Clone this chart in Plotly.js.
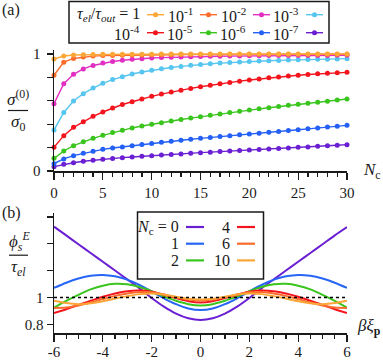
<!DOCTYPE html>
<html>
<head>
<meta charset="utf-8">
<script src="https://cdn.plot.ly/plotly-3.0.1.min.js"></script>
<style>
  body { margin: 0; background: #fff; }
  #chart { width: 383px; height: 360px; }
</style>
</head>
<body>
<div id="chart"></div>
<script>
// panel (a): sigma^(0)/sigma_0 against N_c, one series per tau_el/tau_out
const nc = [0, 1, 2, 3, 4, 5, 6, 7, 8, 9, 10, 11, 12, 13, 14, 15, 16, 17, 18, 19, 20, 21, 22, 23, 24, 25, 26, 27, 28, 29, 30];
const ncTicks = [0, 5, 10, 15, 20, 25, 30];

const tauLabels = ['1', '10<sup>-1</sup>', '10<sup>-2</sup>', '10<sup>-3</sup>', '10<sup>-4</sup>', '10<sup>-5</sup>', '10<sup>-6</sup>', '10<sup>-7</sup>'];
const tauColors = ['#fba637', '#fb6b2b', '#e22fc3', '#56c5ef', '#f3151d', '#3ac41e', '#2460f5', '#6a1fd2'];

const sigmaT0 = [0.957, 0.983, 0.991, 0.994, 0.996, 0.997, 0.997, 0.998, 0.998, 0.998, 0.998, 0.999, 0.999, 0.999, 0.999, 0.999, 0.999, 0.999, 0.999, 0.999, 0.999, 0.999, 0.999, 0.999, 0.999, 1.0, 1.0, 1.0, 1.0, 1.0, 1.0];
const sigmaT1 = [0.818, 0.930, 0.962, 0.975, 0.982, 0.986, 0.988, 0.990, 0.991, 0.992, 0.993, 0.994, 0.994, 0.995, 0.995, 0.996, 0.996, 0.996, 0.997, 0.997, 0.997, 0.997, 0.997, 0.998, 0.998, 0.998, 0.998, 0.998, 0.998, 0.998, 0.998];
const sigmaT2 = [0.575, 0.746, 0.826, 0.872, 0.902, 0.922, 0.936, 0.946, 0.954, 0.960, 0.965, 0.969, 0.972, 0.975, 0.977, 0.979, 0.980, 0.981, 0.982, 0.983, 0.984, 0.985, 0.986, 0.986, 0.987, 0.987, 0.988, 0.988, 0.988, 0.989, 0.989];
const sigmaT3 = [0.350, 0.500, 0.598, 0.661, 0.709, 0.749, 0.781, 0.806, 0.829, 0.846, 0.860, 0.873, 0.884, 0.894, 0.903, 0.911, 0.917, 0.922, 0.927, 0.932, 0.936, 0.939, 0.942, 0.945, 0.948, 0.950, 0.952, 0.954, 0.956, 0.958, 0.960];
const sigmaT4 = [0.202, 0.302, 0.373, 0.421, 0.467, 0.504, 0.538, 0.568, 0.592, 0.616, 0.638, 0.657, 0.675, 0.691, 0.706, 0.720, 0.733, 0.745, 0.757, 0.768, 0.778, 0.787, 0.796, 0.804, 0.811, 0.818, 0.824, 0.830, 0.835, 0.839, 0.843];
const sigmaT5 = [0.108, 0.171, 0.216, 0.251, 0.279, 0.305, 0.328, 0.349, 0.368, 0.384, 0.399, 0.413, 0.427, 0.440, 0.452, 0.464, 0.476, 0.488, 0.499, 0.510, 0.521, 0.531, 0.541, 0.551, 0.561, 0.570, 0.579, 0.588, 0.597, 0.606, 0.615];
const sigmaT6 = [0.063, 0.103, 0.131, 0.151, 0.169, 0.185, 0.196, 0.206, 0.216, 0.226, 0.236, 0.245, 0.254, 0.262, 0.271, 0.279, 0.287, 0.294, 0.302, 0.309, 0.316, 0.323, 0.331, 0.338, 0.346, 0.353, 0.360, 0.368, 0.375, 0.383, 0.390];
const sigmaT7 = [0.037, 0.057, 0.071, 0.083, 0.092, 0.100, 0.107, 0.114, 0.120, 0.126, 0.131, 0.136, 0.141, 0.146, 0.152, 0.157, 0.161, 0.166, 0.170, 0.175, 0.179, 0.184, 0.188, 0.193, 0.197, 0.202, 0.206, 0.211, 0.216, 0.220, 0.225];
const sigmaSeries = [sigmaT0, sigmaT1, sigmaT2, sigmaT3, sigmaT4, sigmaT5, sigmaT6, sigmaT7];

// panel (b): phi_s^E / tau_el against beta*xi_p, one curve per N_c
const beta = [-6, -5.5, -5, -4.5, -4, -3.5, -3, -2.5, -2, -1.5, -1, -0.5, 0, 0.5, 1, 1.5, 2, 2.5, 3, 3.5, 4, 4.5, 5, 5.5, 6];
const betaTicks = [-6, -4, -2, 0, 2, 4, 6];
const betaTickText = ['-6', '-4', '-2', '0', '2', '4', '6'];

const ncLabels = ['0', '1', '2', '4', '6', '10'];
const ncColors = ['#6a1fd2', '#2766f5', '#3ac41e', '#f3151d', '#fb6b2b', '#fba637'];

const phiN0 = [1.528, 1.463, 1.397, 1.332, 1.266, 1.201, 1.135, 1.068, 0.996, 0.932, 0.880, 0.845, 0.832, 0.845, 0.880, 0.932, 0.996, 1.068, 1.135, 1.201, 1.266, 1.332, 1.397, 1.463, 1.525];
const phiN1 = [1.071, 1.110, 1.141, 1.162, 1.168, 1.158, 1.133, 1.093, 1.045, 0.994, 0.950, 0.918, 0.906, 0.918, 0.950, 0.994, 1.045, 1.093, 1.133, 1.158, 1.168, 1.162, 1.141, 1.110, 1.071];
const phiN2 = [0.925, 0.975, 1.020, 1.060, 1.088, 1.102, 1.098, 1.078, 1.046, 1.008, 0.975, 0.950, 0.940, 0.950, 0.975, 1.008, 1.046, 1.078, 1.098, 1.102, 1.088, 1.060, 1.020, 0.975, 0.925];
const phiN4 = [0.884, 0.912, 0.945, 0.975, 1.005, 1.030, 1.047, 1.052, 1.043, 1.020, 0.995, 0.972, 0.963, 0.972, 0.995, 1.020, 1.043, 1.052, 1.047, 1.030, 1.005, 0.975, 0.945, 0.912, 0.884];
const phiN6 = [0.922, 0.925, 0.940, 0.962, 0.988, 1.012, 1.030, 1.040, 1.038, 1.022, 1.002, 0.985, 0.978, 0.985, 1.002, 1.022, 1.038, 1.040, 1.030, 1.012, 0.988, 0.962, 0.940, 0.925, 0.922];
const phiN10 = [0.975, 0.958, 0.950, 0.957, 0.972, 0.992, 1.010, 1.025, 1.030, 1.022, 1.005, 0.990, 0.984, 0.990, 1.005, 1.022, 1.030, 1.025, 1.010, 0.992, 0.972, 0.957, 0.950, 0.958, 0.975];
const phiSeries = [phiN0, phiN1, phiN2, phiN4, phiN6, phiN10];

const refX = [-6, 6];
const refY = [1, 1];

// page geometry, in pixels, so the annotations and keys can be placed on the paper
const W = 383, H = 360, ML = 54, MR = 36;
const PW = W - ML - MR;
function px(x) { return (x - ML) / PW; }
function py(y) { return 1 - y / H; }

const ink = '#1a1a1a';
const serif = 'Liberation Serif';

const traces = [];
for (let i = sigmaSeries.length - 1; i >= 0; i--) {
  traces.push({
    x: nc,
    y: sigmaSeries[i],
    xaxis: 'x',
    yaxis: 'y',
    type: 'scatter',
    mode: 'lines+markers',
    line: { color: tauColors[i], width: 1.4 },
    marker: { color: tauColors[i], size: 5 },
    cliponaxis: false,
    showlegend: false,
    hoverinfo: 'skip',
  });
}
phiSeries.forEach(function (ys, i) {
  traces.push({
    x: beta,
    y: ys,
    xaxis: 'x2',
    yaxis: 'y2',
    type: 'scatter',
    mode: 'lines',
    line: { color: ncColors[i], width: 2, shape: 'spline', smoothing: 0.8 },
    showlegend: false,
    hoverinfo: 'skip',
  });
});
traces.push({
  x: refX,
  y: refY,
  xaxis: 'x2',
  yaxis: 'y2',
  type: 'scatter',
  mode: 'lines',
  line: { color: '#000', width: 1.5, dash: 'dot' },
  showlegend: false,
  hoverinfo: 'skip',
});

const axisBase = {
  showline: true,
  linecolor: ink,
  linewidth: 1.5,
  ticks: 'outside',
  tickcolor: ink,
  tickwidth: 1.3,
  showgrid: false,
  zeroline: false,
  tickfont: { family: serif, size: 15, color: ink },
};

const shapes = [];
const annotations = [];

// key for panel (a): label first, then its swatch
shapes.push({
  type: 'rect', xref: 'paper', yref: 'paper',
  x0: px(69), x1: px(329), y0: py(43), y1: py(1.5),
  line: { color: ink, width: 1.5 },
});
tauLabels.forEach(function (label, i) {
  const row = Math.floor(i / 4);
  const col = i % 4;
  const sx = 147 + col * 53;
  const sy = 14.7 + row * 18;
  shapes.push({
    type: 'line', xref: 'paper', yref: 'paper',
    x0: px(sx), x1: px(sx + 17), y0: py(sy), y1: py(sy),
    line: { color: tauColors[i], width: 1.4 },
  });
  shapes.push({
    type: 'circle', xref: 'paper', yref: 'paper',
    x0: px(sx + 6), x1: px(sx + 11), y0: py(sy + 2.5), y1: py(sy - 2.5),
    fillcolor: tauColors[i], line: { width: 0 },
  });
  const text = i === 0
    ? '<i>τ<sub>el</sub></i>/<i>τ<sub>out</sub></i> = ' + label
    : label;
  annotations.push({
    xref: 'paper', yref: 'paper', x: px(sx - 5), y: py(sy),
    xanchor: 'right', yanchor: 'middle', showarrow: false,
    text: text, font: { family: serif, size: 16, color: ink },
  });
});

// key for panel (b), filled column by column
shapes.push({
  type: 'rect', xref: 'paper', yref: 'paper',
  x0: px(137.5), x1: px(263.5), y0: py(279), y1: py(212),
  line: { color: ink, width: 1.5 },
});
ncLabels.forEach(function (label, i) {
  const col = Math.floor(i / 3);
  const row = i % 3;
  const sx = 186 + col * 51;
  const sy = 227 + row * 16.7;
  shapes.push({
    type: 'line', xref: 'paper', yref: 'paper',
    x0: px(sx), x1: px(sx + 18), y0: py(sy), y1: py(sy),
    line: { color: ncColors[i], width: 2.2 },
  });
  annotations.push({
    xref: 'paper', yref: 'paper', x: px(sx - 5), y: py(sy),
    xanchor: 'right', yanchor: 'middle', showarrow: false,
    text: i === 0 ? '<i>N</i><sub>c</sub> = ' + label : label,
    font: { family: serif, size: 16, color: ink },
  });
});

// panel letters, axis names and the two stacked fractions
function note(text, x, y, size, xanchor, yanchor) {
  annotations.push({
    xref: 'paper', yref: 'paper', x: px(x), y: py(y),
    xanchor: xanchor || 'center', yanchor: yanchor || 'middle', showarrow: false,
    borderpad: 0,
    text: text, font: { family: serif, size: size, color: ink },
  });
}
note('(a)', 11, 10, 16);
note('(b)', 11, 213, 16);
note('<i>N</i><sub>c</sub>', 372, 171, 17);
note('<i>βξ</i><sub><b>p</b></sub>', 382, 327, 17, 'right');
note('<i>σ</i><sup>(0)</sup>', 18, 110, 17, 'center', 'bottom');
note('<i>σ</i><sub>0</sub>', 18, 111, 17, 'center', 'top');
note('<i>ϕ</i><sub><i>s</i></sub><sup><i>E</i></sup>', 19, 254.5, 17, 'center', 'bottom');
note('<i>τ<sub>el</sub></i>', 18, 256, 17, 'center', 'top');
shapes.push({
  type: 'line', xref: 'paper', yref: 'paper',
  x0: px(8), x1: px(28), y0: py(110.5), y1: py(110.5),
  line: { color: ink, width: 1.2 },
});
shapes.push({
  type: 'line', xref: 'paper', yref: 'paper',
  x0: px(9), x1: px(28), y0: py(255.2), y1: py(255.2),
  line: { color: ink, width: 1.2 },
});

const layout = {
  width: W,
  height: H,
  margin: { l: ML, r: MR, t: 0, b: 0 },
  paper_bgcolor: '#fff',
  plot_bgcolor: 'rgba(0,0,0,0)',
  font: { family: serif, size: 15, color: ink },
  showlegend: false,
  xaxis: Object.assign({}, axisBase, {
    domain: [0, 1],
    anchor: 'y',
    range: [0, 30],
    tickmode: 'array',
    tickvals: ncTicks,
    ticklen: 7,
    minor: { dtick: 1, tick0: 0, ticks: 'outside', ticklen: 4, tickwidth: 1.2, tickcolor: ink, showgrid: false },
  }),
  yaxis: Object.assign({}, axisBase, {
    domain: [py(171), py(50)],
    anchor: 'x',
    range: [0, 1.034],
    tickmode: 'array',
    tickvals: [0, 0.2, 0.4, 0.6, 0.8, 1],
    ticktext: ['0', '', '', '', '', '1'],
    ticklen: 6,
    ticklabelstandoff: 3,
  }),
  xaxis2: Object.assign({}, axisBase, {
    domain: [0, 1],
    anchor: 'y2',
    range: [-6, 6],
    tickmode: 'array',
    tickvals: betaTicks,
    ticktext: betaTickText,
    ticklen: 7,
    ticklabelstandoff: -3,
    minor: { dtick: 0.5, tick0: 0, ticks: 'outside', ticklen: 4, tickwidth: 1.2, tickcolor: ink, showgrid: false },
  }),
  yaxis2: Object.assign({}, axisBase, {
    domain: [py(333), py(213)],
    anchor: 'x2',
    range: [0.735, 1.63],
    tickmode: 'array',
    tickvals: [0.8, 1, 1.2, 1.4, 1.6],
    ticktext: ['0.8', '1', '', '', ''],
    ticklen: 6,
  }),
  shapes: shapes,
  annotations: annotations,
};

Plotly.newPlot('chart', traces, layout, { staticPlot: true, displayModeBar: false });
</script>
</body>
</html>
